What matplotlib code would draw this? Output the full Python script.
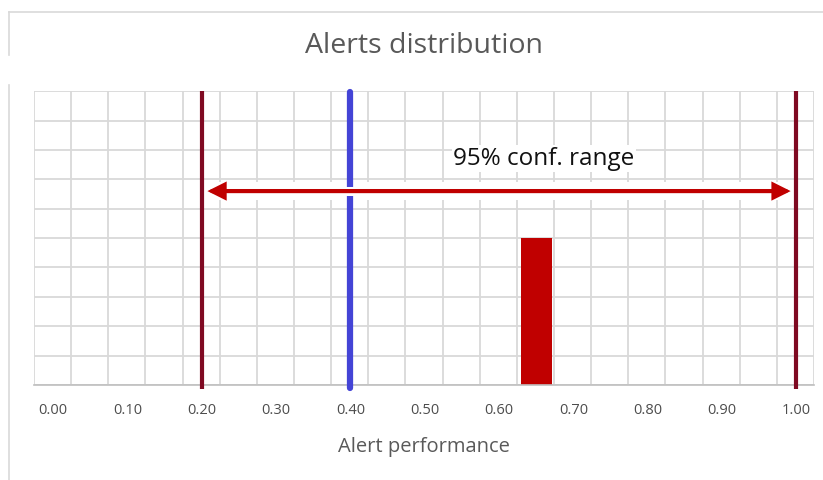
#!/usr/bin/env python3
"""
Alerts distribution — single-bar histogram with 95% conf. range and threshold.
"""

import matplotlib
matplotlib.use("Agg")
import matplotlib.pyplot as plt
from matplotlib.lines import Line2D
import numpy as np

# ── Data ──────────────────────────────────────────────────────────────────────
BAR_X       = [0.65]
BAR_HEIGHT  = [5]
CONF_LOW    = 0.20
CONF_HIGH   = 1.00
THRESHOLD   = 0.40
ARROW_Y     = 6.6
RANGE_LABEL = "95% conf. range"
XTICKS      = [0.0, 0.1, 0.2, 0.3, 0.4, 0.5, 0.6, 0.7, 0.8, 0.9, 1.0]

# ── Colori ────────────────────────────────────────────────────────────────────
C_BAR   = "#C00000"
C_CONF  = "#7F0A22"
C_THR   = "#4444D6"
C_GRID  = "#D9D9D9"
C_TEXT  = "#595959"

plt.rcParams["font.family"] = ["Open Sans", "DejaVu Sans"]


def main():
    fig = plt.figure(figsize=(8.23, 4.8), dpi=100, facecolor="white")
    ax = fig.add_axes([0.0413, 0.198, 0.9478, 0.612])

    x0, x1 = -0.026, 1.024
    ax.set_xlim(x0, x1)
    ax.set_ylim(0, 10)

    # griglia: passo 0.05 sfasato rispetto alle etichette
    ax.set_xticks(XTICKS)
    ax.set_xticklabels([f"{v:.2f}" for v in XTICKS])
    ax.set_xticks(np.arange(x0, x1 + 0.001, 0.05), minor=True)
    ax.set_yticks(np.arange(0, 11, 1))
    ax.set_yticklabels([])
    ax.grid(False)
    ax.grid(which="minor", axis="x", color=C_GRID, lw=1.3, zorder=0)
    ax.grid(which="major", axis="y", color=C_GRID, lw=1.3, zorder=0)
    ax.set_axisbelow(True)
    ax.tick_params(which="both", length=0)
    ax.tick_params(axis="x", labelsize=10.5, labelcolor="#4D4D4D", pad=13)
    for s in ["top", "right", "left"]:
        ax.spines[s].set_visible(False)
    ax.spines["bottom"].set_color("#BFBFBF")
    ax.spines["bottom"].set_linewidth(1.2)

    ax.bar(BAR_X, BAR_HEIGHT, width=0.042, color=C_BAR, zorder=2)

    # banda bianca dietro la freccia
    ax.axhspan(ARROW_Y - 0.32, ARROW_Y + 0.3,
               xmin=(CONF_LOW - x0) / (x1 - x0), xmax=(CONF_HIGH - x0) / (x1 - x0),
               color="white", lw=0, zorder=1)

    for xv in (CONF_LOW, CONF_HIGH):
        ax.plot([xv, xv], [-0.15, 10], color=C_CONF, lw=3, clip_on=False,
                solid_capstyle="butt", zorder=3)
    ax.plot([THRESHOLD, THRESHOLD], [-0.12, 9.97], color=C_THR, lw=4.5,
            clip_on=False, solid_capstyle="round", zorder=3)

    # interruzione bianca della linea blu sotto la freccia
    ax.plot([CONF_LOW + 0.03, CONF_HIGH - 0.03], [ARROW_Y, ARROW_Y],
            color="white", lw=6.5, zorder=3.5)
    ax.annotate("", xy=(CONF_LOW, ARROW_Y), xytext=(CONF_HIGH, ARROW_Y),
                arrowprops=dict(arrowstyle="<|-|>,head_length=0.9,head_width=0.45",
                                color=C_BAR, lw=3, shrinkA=4, shrinkB=4,
                                joinstyle="miter"),
                zorder=4)
    ax.text(0.66, 7.7, RANGE_LABEL, ha="center", va="center", fontsize=17.5,
            color="#111111", zorder=5,
            bbox=dict(facecolor="white", edgecolor="none", pad=1))

    ax.set_xlabel("Alert performance", fontsize=14.5, color=C_TEXT, labelpad=14)
    fig.text(0.515, 0.905, "Alerts distribution", ha="center", va="center",
             fontsize=20.5, color=C_TEXT)

    # bordo della cornice (screenshot)
    for xs, ys in [([9, 9], [12, 55]), ([9, 9], [85, 480]), ([9, 823], [12, 12])]:
        fig.add_artist(Line2D([x / 823 for x in xs], [1 - y / 480 for y in ys],
                              color=C_GRID, lw=1.2, transform=fig.transFigure))

    fig.savefig("out.png", dpi=100, facecolor="white")
    plt.close(fig)


if __name__ == "__main__":
    main()
